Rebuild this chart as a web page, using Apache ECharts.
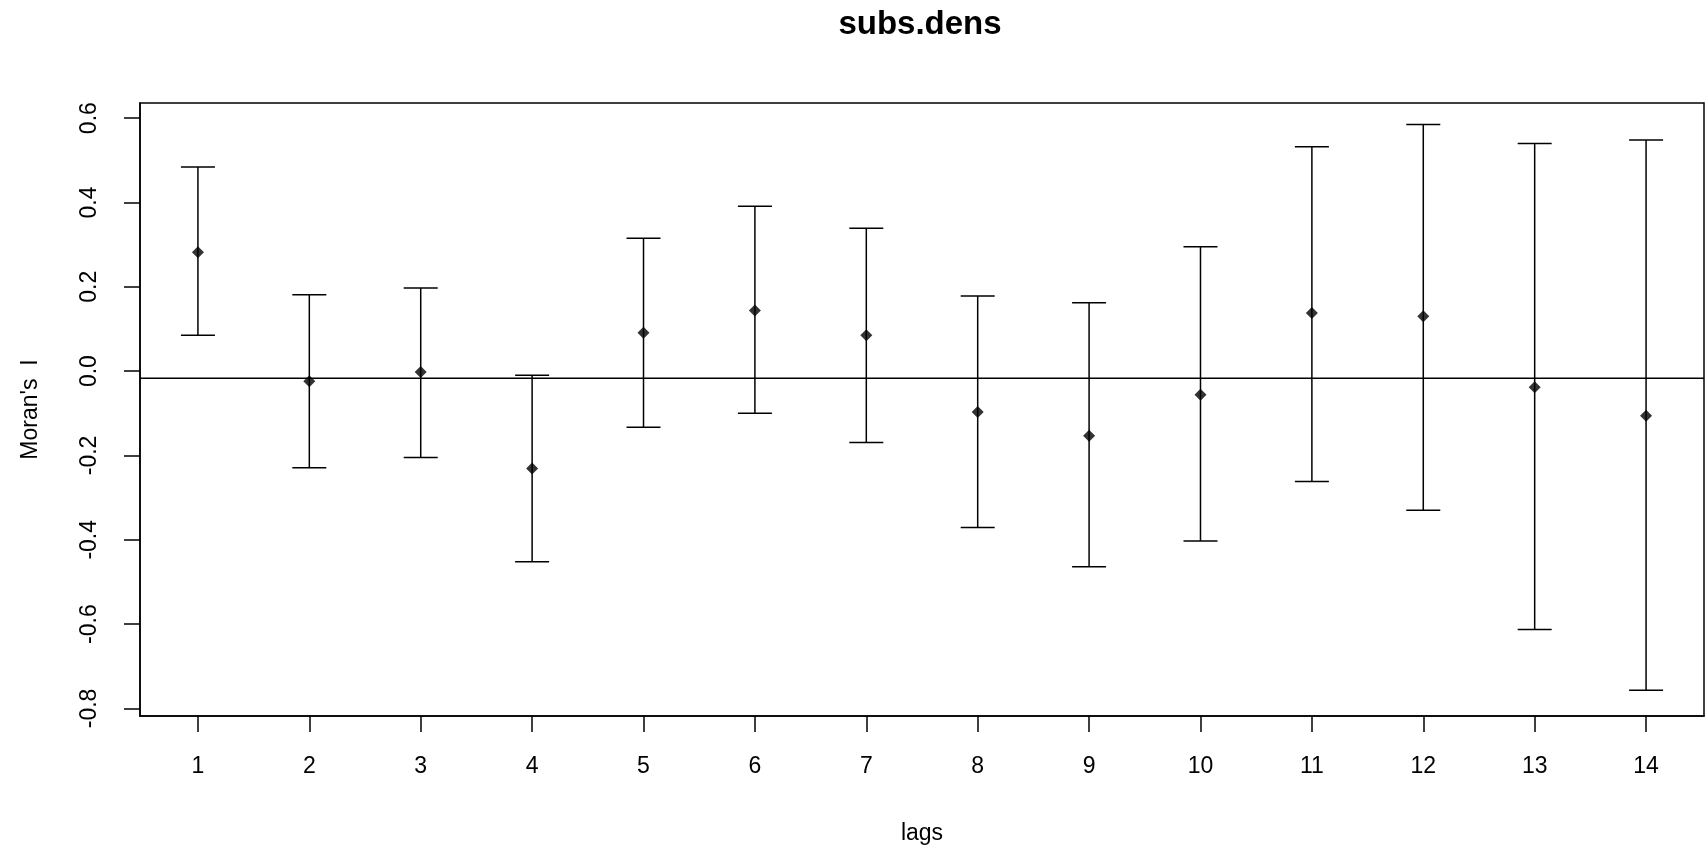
<!DOCTYPE html>
<html>
<head>
<meta charset="utf-8">
<script src="https://cdn.jsdelivr.net/npm/echarts@6/dist/echarts.min.js"></script>
<style>
  html, body { margin: 0; padding: 0; background: #fff; }
  #corr_chart { width: 1706px; height: 850px; }
</style>
</head>
<body>
<div id="corr_chart"></div>
<script>
// lags of the correlogram
var lags = [1, 2, 3, 4, 5, 6, 7, 8, 9, 10, 11, 12, 13, 14];
// Moran's I at each lag
var moranI = [0.282, -0.024, -0.002, -0.231, 0.091, 0.144, 0.085, -0.097, -0.153, -0.056, 0.138, 0.130, -0.038, -0.106];
// I +/- 2 sd
var upper = [0.484, 0.181, 0.197, -0.010, 0.315, 0.391, 0.339, 0.178, 0.162, 0.295, 0.532, 0.585, 0.540, 0.548];
var lower = [0.085, -0.229, -0.205, -0.452, -0.133, -0.100, -0.169, -0.371, -0.464, -0.403, -0.262, -0.330, -0.613, -0.757];
// expected I under no autocorrelation
var expectedI = -0.0167;
var yTicks = [-0.8, -0.6, -0.4, -0.2, 0.0, 0.2, 0.4, 0.6];

var FONT = 'Liberation Sans, Arial, sans-serif';

var barData = [];
var pointData = [];
for (var i = 0; i < lags.length; i++) {
    barData.push([lags[i], lower[i], upper[i]]);
    pointData.push([lags[i], moranI[i]]);
}

var myChart = echarts.init(document.getElementById('corr_chart'));
var option = {
    animation: false,
    backgroundColor: '#fff',
    title: {
        text: 'subs.dens',
        left: 915,
        textAlign: 'center',
        top: 3,
        textStyle: { fontFamily: FONT, fontSize: 33, fontWeight: 'bold', color: '#000' }
    },
    grid: {
        left: 140,
        right: 2,
        top: 103,
        bottom: 129,
        show: true,
        borderColor: '#000',
        borderWidth: 1.5,
        backgroundColor: 'transparent'
    },
    xAxis: {
        type: 'value',
        min: 0.48,
        max: 14.52,
        name: 'lags',
        nameLocation: 'middle',
        nameGap: 106,
        nameTextStyle: { fontFamily: FONT, fontSize: 23, color: '#000' },
        axisLine: { show: true, onZero: false, lineStyle: { color: '#000', width: 1.5 } },
        axisTick: { show: true, length: 16, customValues: lags, lineStyle: { color: '#000', width: 1.5 } },
        axisLabel: { customValues: lags, margin: 39, fontFamily: FONT, fontSize: 23, color: '#000' },
        splitLine: { show: false }
    },
    yAxis: {
        type: 'value',
        min: -0.818,
        max: 0.636,
        name: "Moran's  I",
        nameLocation: 'middle',
        nameGap: 98,
        nameTextStyle: { fontFamily: FONT, fontSize: 23, color: '#000' },
        axisLine: { show: true, onZero: false, lineStyle: { color: '#000', width: 1.5 } },
        axisTick: { show: true, length: 16, customValues: yTicks, lineStyle: { color: '#000', width: 1.5 } },
        axisLabel: {
            customValues: yTicks,
            rotate: 90,
            margin: 39,
            fontFamily: FONT,
            fontSize: 23,
            color: '#000',
            formatter: function (v) { return v.toFixed(1); }
        },
        splitLine: { show: false }
    },
    series: [{
        name: 'ref',
        type: 'line',
        data: [[0.48, expectedI], [14.52, expectedI]],
        symbol: 'none',
        lineStyle: { color: '#000', width: 1.5 },
        z: 1
    }, {
        name: 'bars',
        type: 'custom',
        data: barData,
        renderItem: function (params, api) {
            var x = api.value(0);
            var lo = api.coord([x, api.value(1)]);
            var hi = api.coord([x, api.value(2)]);
            var cap = 17;
            var st = { stroke: '#000', lineWidth: 1.5 };
            return {
                type: 'group',
                children: [
                    { type: 'line', shape: { x1: lo[0], y1: lo[1], x2: hi[0], y2: hi[1] }, style: st },
                    { type: 'line', shape: { x1: hi[0] - cap, y1: hi[1], x2: hi[0] + cap, y2: hi[1] }, style: st },
                    { type: 'line', shape: { x1: lo[0] - cap, y1: lo[1], x2: lo[0] + cap, y2: lo[1] }, style: st }
                ]
            };
        },
        z: 2
    }, {
        name: 'I',
        type: 'scatter',
        data: pointData,
        symbol: 'diamond',
        symbolSize: 12,
        itemStyle: { color: '#000' },
        z: 3
    }]
};
myChart.setOption(option);
</script>
</body>
</html>
